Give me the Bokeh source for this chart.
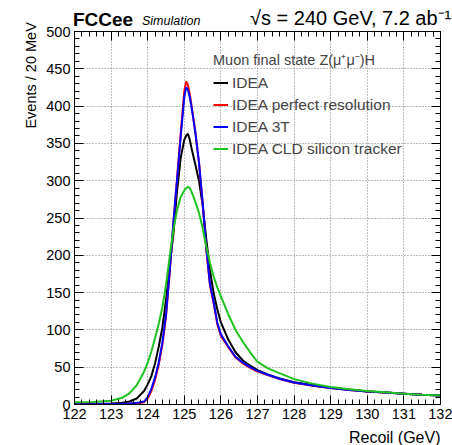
from math import pi
from bokeh.plotting import figure
from bokeh.layouts import column
from bokeh.models import (Range1d, FixedTicker, LinearAxis, Label, Legend,
                          LegendItem, CustomJSTickFormatter, Div)
from bokeh.embed import file_html
from bokeh.resources import INLINE

# ---------------- data ----------------
recoil = [122.0, 122.5, 123.0, 123.3, 123.5, 123.7, 123.9, 124.0, 124.1, 124.2,
          124.3, 124.4, 124.5, 124.6, 124.7, 124.8, 124.9, 125.0, 125.05, 125.1,
          125.15, 125.2, 125.3, 125.4, 125.5, 125.6, 125.7, 125.8, 125.9, 126.0,
          126.2, 126.4, 126.6, 126.8, 127.0, 127.3, 127.6, 128.0, 128.5, 129.0,
          129.5, 130.0, 130.5, 131.0, 131.5, 132.0]

idea = [0.8, 1.0, 1.5, 2.5, 4, 8, 18, 27, 38, 55,
        77, 103, 140, 185, 228, 285, 330, 355, 360, 363,
        355, 343, 322, 300, 268, 222, 180, 150, 128, 110,
        87, 70, 59, 52, 46, 40, 35, 30, 26, 22.5,
        20, 17.5, 16, 14.5, 13, 12]

idea_perfect = [0.3, 0.4, 0.6, 0.8, 1.2, 1.8, 3, 8, 18, 33,
                53, 80, 118, 176, 242, 302, 362, 420, 433, 428,
                416, 400, 366, 325, 270, 208, 160, 136, 108, 92,
                77, 63, 55, 49, 44, 39, 34, 29, 25, 22,
                19.5, 17.5, 16, 14.5, 13, 12]

idea_3t = [0.4, 0.5, 0.8, 1.0, 1.5, 2.2, 4, 10, 21, 36,
           56, 83, 120, 178, 243, 300, 358, 412, 425, 422,
           412, 398, 365, 325, 272, 210, 162, 138, 110, 94,
           78, 64, 56, 50, 45, 39.5, 34.5, 29.5, 25.5, 22,
           19.5, 17.5, 16, 14.5, 13, 12]

idea_cld = [3, 3.5, 5, 9, 15, 26, 44, 56, 71, 89,
            108, 130, 160, 198, 234, 260, 278, 287, 290, 292,
            290, 285, 272, 257, 237, 212, 190, 172, 157, 145,
            121, 100, 84, 70, 57, 48, 42, 34, 28, 23.5,
            20.5, 18, 16.5, 14.5, 13, 12]

series_labels = ["IDEA", "IDEA perfect resolution", "IDEA 3T", "IDEA CLD silicon tracker"]
series_colors = ["black", "#ff0000", "#0000ff", "#1fc21f"]

x_ticks = [122, 123, 124, 125, 126, 127, 128, 129, 130, 131, 132]
y_ticks = [0, 50, 100, 150, 200, 250, 300, 350, 400, 450, 500]
x_minor = [round(122 + 0.2 * i, 1) for i in range(51)]
y_minor = [10 * i for i in range(51)]

FONT = "Liberation Sans"
HEADER_H = 20

# ---------------- header (experiment tag + luminosity) ----------------
header_html = (
    '<div style="position:relative;width:452px;height:%dpx;overflow:visible;'
    'font-family:\'Liberation Sans\';color:black;white-space:nowrap;">'
    '<span style="position:absolute;left:73px;top:10px;font-size:19px;line-height:1;'
    'font-weight:bold;">FCCee</span>'
    '<span style="position:absolute;left:142px;top:15px;font-size:12.5px;line-height:1;'
    'font-style:italic;">Simulation</span>'
    '<span style="position:absolute;left:250px;top:8px;font-size:20px;line-height:1;">'
    '√s = 240 GeV, 7.2 ab⁻¹</span>'
    '</div>' % HEADER_H)
header = Div(text=header_html, width=452, height=HEADER_H, margin=0,
             styles={"z-index": "5", "overflow": "visible", "position": "relative"})

# ---------------- figure ----------------
p = figure(width=452, height=445 - HEADER_H, x_range=Range1d(122, 132), y_range=Range1d(0, 500),
           output_backend="svg", toolbar_location=None, margin=0,
           min_border_left=74, min_border_right=12, min_border_top=31 - HEADER_H,
           min_border_bottom=41)
p.background_fill_color = "white"
p.border_fill_color = "white"
p.outline_line_color = "black"
p.outline_line_width = 1

def style_axis(ax, show_labels=True):
    ax.major_tick_in = 9
    ax.major_tick_out = 0
    ax.minor_tick_in = 5
    ax.minor_tick_out = 0
    ax.axis_line_color = "black"
    ax.major_tick_line_color = "black"
    ax.minor_tick_line_color = "black"
    if show_labels:
        ax.major_label_text_font = FONT
        ax.major_label_text_font_size = "14.5px"
        ax.major_label_text_color = "black"
        ax.major_label_standoff = 4
    else:
        ax.formatter = CustomJSTickFormatter(code="return ''")
        ax.major_label_text_font_size = "1px"
        ax.major_label_standoff = 0

p.xaxis.ticker = FixedTicker(ticks=x_ticks, minor_ticks=x_minor)
p.yaxis.ticker = FixedTicker(ticks=y_ticks, minor_ticks=y_minor)
style_axis(p.xaxis[0])
style_axis(p.yaxis[0])

top = LinearAxis(ticker=FixedTicker(ticks=x_ticks, minor_ticks=x_minor))
style_axis(top, False)
p.add_layout(top, "above")
right = LinearAxis(ticker=FixedTicker(ticks=y_ticks, minor_ticks=y_minor))
style_axis(right, False)
p.add_layout(right, "right")

p.xgrid.ticker = FixedTicker(ticks=x_ticks)
p.ygrid.ticker = FixedTicker(ticks=y_ticks)
for g in (p.xgrid[0], p.ygrid[0]):
    g.grid_line_color = "#7a7a7a"
    g.grid_line_dash = "1 2"
    g.grid_line_width = 1

# ---------------- curves ----------------
renderers = []
for ys, col in zip([idea, idea_perfect, idea_3t, idea_cld], series_colors):
    r = p.line(recoil, ys, line_color=col, line_width=2)
    renderers.append(r)

legend = Legend(items=[LegendItem(label=lab, renderers=[r]) for lab, r in zip(series_labels, renderers)],
                location=(139, 246), title="Muon final state Z(μ⁺μ⁻)H",
                border_line_color=None, background_fill_alpha=0, padding=0, margin=0,
                spacing=3, glyph_width=15, glyph_height=19, label_height=19, label_standoff=4,
                label_text_font=FONT, label_text_font_size="15.5px",
                title_text_font=FONT, title_text_font_size="14.5px", title_text_font_style="normal",
                title_standoff=4)
p.add_layout(legend)

# ---------------- axis titles (in side panels so they are not clipped) ----------------
p.add_layout(Label(x=120.80, y=512.5, text="Events / 20 MeV", angle=pi / 2, text_font=FONT,
                   text_font_size="14.5px", text_align="right", text_baseline="middle",
                   text_color="black"), "left")
p.add_layout(Label(x=132.0, y=-44.2, text="Recoil (GeV)", text_font=FONT, text_font_size="16px",
                   text_align="right", text_baseline="middle", text_color="black"), "below")

layout = column(header, p, spacing=0)
open("out.html", "w").write(file_html(layout, INLINE))
